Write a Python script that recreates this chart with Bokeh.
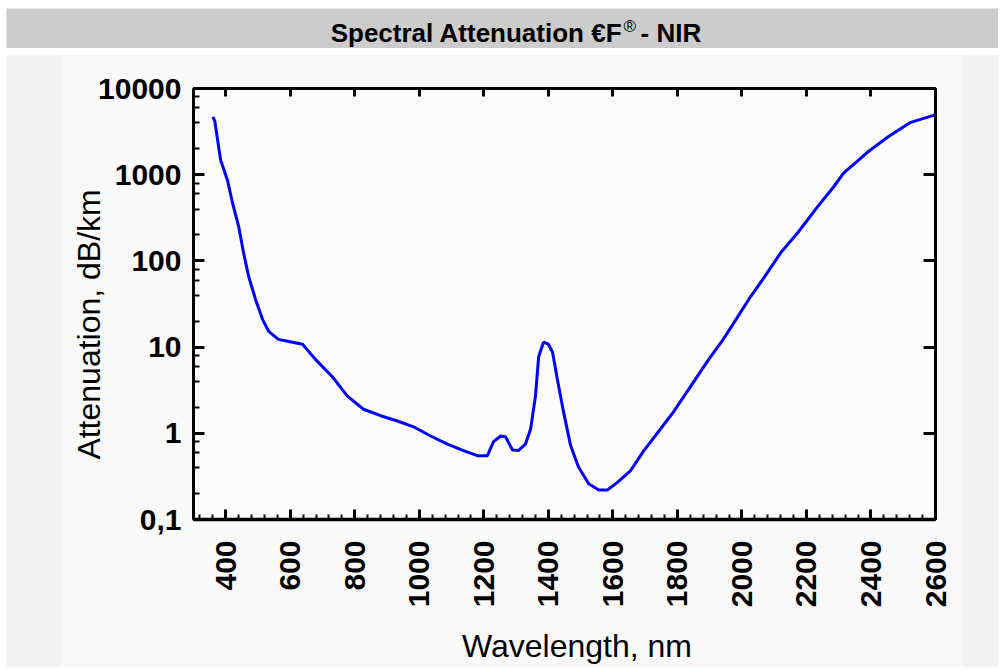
import math
from bokeh.plotting import figure
from bokeh.models import (LogAxis, LinearAxis, SingleIntervalTicker, LogTicker,
                          CustomJSTickFormatter, Spacer, Range1d)
from bokeh.layouts import column, row
from bokeh.embed import file_html
from bokeh.resources import INLINE
from bokeh.core.properties import value

# ---- data ----
title_main = "Spectral Attenuation €F"
title_sup = "®"
title_tail = "- NIR"
x_label = "Wavelength, nm"
y_label = "Attenuation, dB/km"

wavelength_nm = [360, 366, 384, 405, 421, 440, 455, 471, 492, 514, 533, 563, 607, 638,
                 678, 731, 777, 827, 880, 932, 982, 1035, 1087, 1137, 1180, 1211, 1230,
                 1252, 1267, 1289, 1307, 1329, 1345, 1360, 1370, 1385, 1400, 1413, 1428,
                 1447, 1469, 1493, 1525, 1556, 1583, 1614, 1655, 1695, 1748, 1788, 1841,
                 1897, 1936, 1968, 2021, 2071, 2120, 2173, 2234, 2284, 2315, 2389, 2451,
                 2523, 2594, 2600]
attenuation_db_km = [4700, 4200, 1480, 870, 470, 250, 125, 66, 36, 21, 15.2, 12.3, 11.4, 10.8,
                     7.2, 4.5, 2.7, 1.9, 1.6, 1.39, 1.19, 0.93, 0.75, 0.63, 0.55, 0.55, 0.80,
                     0.93, 0.91, 0.64, 0.63, 0.75, 1.12, 2.7, 7.8, 11.4, 10.8, 8.7, 4.2,
                     1.77, 0.72, 0.41, 0.26, 0.22, 0.22, 0.27, 0.37, 0.62, 1.13, 1.77, 3.5,
                     7.2, 11.4, 17.4, 35.7, 66, 124, 212, 423, 720, 1040, 1820, 2720,
                     4050, 4880, 5000]

x_start, x_end = 300, 2600
y_start, y_end = 0.1, 10000
x_tick_interval = 200

blank = CustomJSTickFormatter(code="return '';")

# ---- header bar ----
header = figure(width=992, height=40, x_range=Range1d(0, 992), y_range=Range1d(0, 40),
                toolbar_location=None, output_backend="svg", min_border=0,
                x_axis_location=None, y_axis_location=None,
                background_fill_color="#cccccc", border_fill_color="#cccccc",
                outline_line_color=None)
header.grid.visible = False
tfont = value("Liberation Sans")
header.text(x=[616], y=[16], text=[title_main], text_align="right", text_baseline="middle",
            text_font=tfont, text_font_style="bold", text_font_size="26px", text_color="black")
header.text(x=[617], y=[22.5], text=[title_sup], text_align="left", text_baseline="middle",
            text_font=tfont, text_font_style="normal", text_font_size="17px", text_color="black")
header.text(x=[634], y=[16], text=[title_tail], text_align="left", text_baseline="middle",
            text_font=tfont, text_font_style="bold", text_font_size="26px", text_color="black")

# ---- main chart ----
p = figure(width=902, height=612, x_range=Range1d(x_start, x_end),
           y_range=Range1d(y_start, y_end), y_axis_type="log",
           toolbar_location=None, output_backend="svg",
           min_border_left=133, min_border_right=27, min_border_top=33, min_border_bottom=146,
           background_fill_color="#fcfcfc", border_fill_color="#f9f9f9",
           outline_line_color="black", outline_line_width=2)
p.grid.visible = False

p.line(wavelength_nm, attenuation_db_km, line_color="#0000ff", line_width=3)

xa = p.xaxis[0]
xa.ticker = SingleIntervalTicker(interval=x_tick_interval, num_minor_ticks=5)
xa.major_tick_in = 10
xa.major_tick_out = 0
xa.minor_tick_in = 5
xa.minor_tick_out = 0
xa.major_tick_line_width = 3
xa.minor_tick_line_width = 2
xa.axis_line_width = 3.5
xa.major_label_orientation = math.pi / 2
xa.major_label_text_font = "Liberation Sans"
xa.major_label_text_font_style = "bold"
xa.major_label_text_font_size = "30px"
xa.major_label_text_color = "black"
xa.major_label_standoff = 21
# leading spaces offset the centred title slightly to the right, as in the reference
xa.axis_label = "\u2002\u00a0" + x_label
xa.axis_label_text_font = "Liberation Sans"
xa.axis_label_text_font_style = "normal"
xa.axis_label_text_font_size = "32px"
xa.axis_label_text_color = "black"
xa.axis_label_standoff = 18

ya = p.yaxis[0]
ya.ticker = LogTicker()
ya.formatter = CustomJSTickFormatter(
    code="const v = Math.round(tick * 1000) / 1000; return String(v).replace('.', ',');")
ya.major_tick_in = 11
ya.major_tick_out = 0
ya.minor_tick_in = 6
ya.minor_tick_out = 0
ya.major_tick_line_width = 3
ya.minor_tick_line_width = 2
ya.axis_line_width = 3
ya.major_label_text_font = "Liberation Sans"
ya.major_label_text_font_style = "bold"
ya.major_label_text_font_size = "30px"
ya.major_label_text_color = "black"
ya.major_label_standoff = 12
# trailing spaces move the centred title down slightly, as in the reference
ya.axis_label = y_label + "\u2002\u2002\u00a0"
ya.axis_label_text_font = "Liberation Sans"
ya.axis_label_text_font_style = "normal"
ya.axis_label_text_font_size = "32px"
ya.axis_label_text_color = "black"
ya.axis_label_standoff = -12

top = LinearAxis(ticker=SingleIntervalTicker(interval=x_tick_interval, num_minor_ticks=0),
                 formatter=blank,
                 major_tick_in=8, major_tick_out=0, minor_tick_line_color=None,
                 major_tick_line_width=3, axis_line_width=3,
                 major_label_standoff=0)
p.add_layout(top, "above")

right = LogAxis(ticker=LogTicker(), formatter=blank, major_tick_in=12, major_tick_out=0,
                minor_tick_line_color=None, major_tick_line_width=3, axis_line_width=3,
                major_label_standoff=0)
p.add_layout(right, "right")

body = row(Spacer(width=54, height=612), p, Spacer(width=36, height=612),
           styles={"background-color": "#f2f2f2"})
main = column(header, body, spacing=7)
layout = column(Spacer(width=998, height=8), row(Spacer(width=6, height=659), main))

open("out.html", "w").write(file_html(layout, INLINE))
